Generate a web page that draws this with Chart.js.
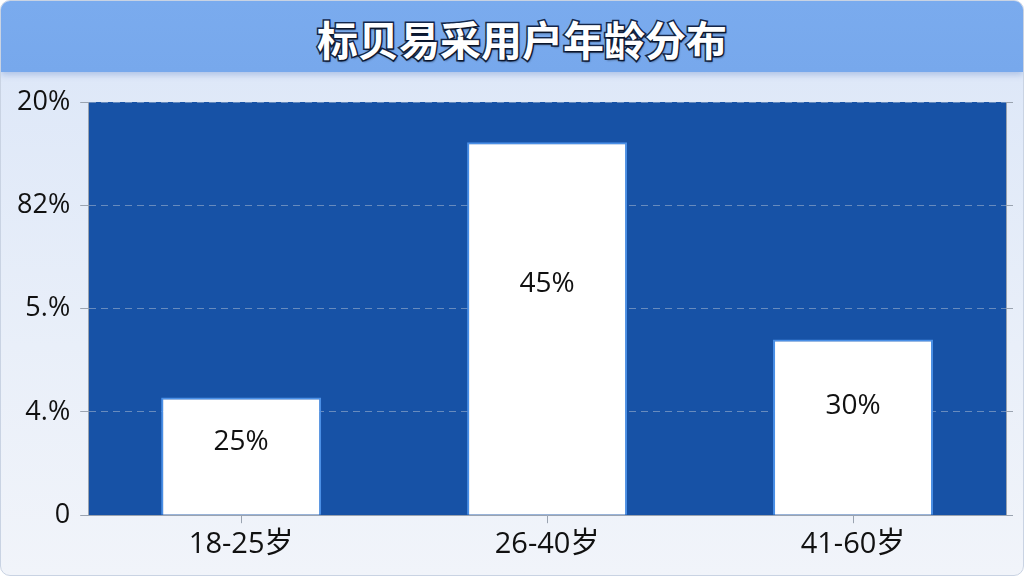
<!DOCTYPE html>
<html lang="zh-CN">
<head>
    <meta charset="UTF-8">
    <title>标贝易采用户年龄分布</title>
    <style>
        html, body {
            margin: 0;
            padding: 0;
            background: #ffffff;
        }

        /* Cartão principal */
        .card {
            position: relative;
            width: 1022px;
            height: 574px;
            border: 1px solid #c9d3e3;
            border-radius: 10px;
            overflow: hidden;
            background: linear-gradient(to bottom, #dbe6f8 0%, #e9eff9 60%, #f1f4fa 100%);
        }

        .header {
            height: 71px;
            padding-left: 20px;
            background: linear-gradient(to bottom, #7aabee 0%, #77a8ec 100%);
            box-shadow: 0 3px 6px rgba(90, 130, 200, 0.35);
            text-align: center;
            font-family: "Noto Sans CJK SC", sans-serif;
            font-weight: bold;
            font-size: 41px;
            line-height: 74px;
            color: #ffffff;
            -webkit-text-stroke: 3px #13264a;
            paint-order: stroke fill;
            text-shadow: 1px 2px 2px rgba(0, 0, 0, 0.45);
        }

        .chart-box {
            position: absolute;
            left: 0;
            top: 72px;
            width: 1022px;
            height: 502px;
        }
    </style>
    <script src="https://cdn.jsdelivr.net/npm/chart.js"></script>
</head>
<body>
    <div class="card">
        <div class="header">标贝易采用户年龄分布</div>
        <div class="chart-box">
            <canvas id="ageChart"></canvas>
        </div>
    </div>

    <script>
        // Dados
        const ageGroups = ['18-25岁', '26-40岁', '41-60岁'];
        const shareLabels = ['25%', '45%', '30%'];
        // altura das barras em unidades do eixo (0..4 linhas de grade)
        const barLevels = [1.14, 3.61, 1.70];
        const yTickLabels = ['0', '4.%', '5.%', '82%', '20%'];

        // Fundo azul da área do gráfico
        const plotBackground = {
            id: 'plotBackground',
            beforeDraw(chart) {
                const { ctx, chartArea } = chart;
                ctx.save();
                ctx.fillStyle = '#1752a6';
                ctx.fillRect(chartArea.left, chartArea.top,
                    chartArea.right - chartArea.left, chartArea.bottom - chartArea.top);
                ctx.restore();
            }
        };

        // Rótulos de percentual dentro das barras
        const barText = {
            id: 'barText',
            afterDatasetsDraw(chart) {
                const ctx = chart.ctx;
                const meta = chart.getDatasetMeta(0);
                ctx.save();
                ctx.font = '28px "Open Sans", "Noto Sans CJK SC", sans-serif';
                ctx.fillStyle = '#111111';
                ctx.textAlign = 'center';
                ctx.textBaseline = 'middle';
                meta.data.forEach((bar, i) => {
                    const h = bar.base - bar.y;
                    ctx.fillText(shareLabels[i], bar.x, bar.y + h * 0.38);
                });
                ctx.restore();
            }
        };

        const ctx = document.getElementById('ageChart').getContext('2d');
        new Chart(ctx, {
            type: 'bar',
            data: {
                labels: ageGroups,
                datasets: [{
                    data: barLevels,
                    backgroundColor: '#ffffff',
                    borderColor: '#4a8fe6',
                    borderWidth: 2,
                    barPercentage: 0.523,
                    categoryPercentage: 1.0
                }]
            },
            options: {
                responsive: true,
                maintainAspectRatio: false,
                animation: false,
                layout: {
                    padding: { top: 29, right: 10, left: 6, bottom: 9 }
                },
                plugins: {
                    legend: { display: false },
                    tooltip: { enabled: false }
                },
                scales: {
                    x: {
                        grid: {
                            offset: false,
                            drawOnChartArea: false,
                            color: '#9aa3b0',
                            tickLength: 8
                        },
                        border: { color: '#9aa3b0' },
                        ticks: {
                            color: '#111111',
                            padding: 4,
                            font: { size: 29, family: '"Open Sans", "Noto Sans CJK SC", sans-serif' }
                        }
                    },
                    y: {
                        min: 0,
                        max: 4,
                        ticks: {
                            stepSize: 1,
                            color: '#111111',
                            padding: 10,
                            font: { size: 27, family: '"Open Sans", "Noto Sans CJK SC", sans-serif' },
                            callback: (v) => yTickLabels[v]
                        },
                        grid: {
                            color: 'rgba(170, 185, 210, 0.55)',
                            tickColor: '#9aa3b0',
                            tickLength: 8
                        },
                        border: { color: '#9aa3b0', dash: [7, 5] }
                    },
                    y2: {
                        position: 'right',
                        min: 0,
                        max: 4,
                        ticks: {
                            stepSize: 1,
                            padding: 0,
                            callback: () => ''
                        },
                        grid: {
                            drawOnChartArea: false,
                            color: '#9aa3b0',
                            tickLength: 7
                        },
                        border: { color: '#9aa3b0' }
                    }
                }
            },
            plugins: [plotBackground, barText]
        });
    </script>
</body>
</html>
